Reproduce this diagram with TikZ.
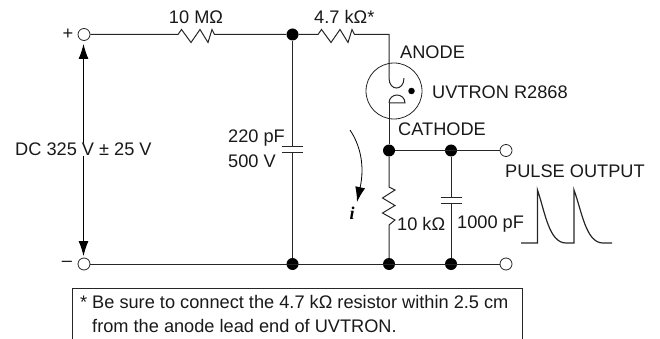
\documentclass[tikz,border=0pt]{standalone}
\usepackage{fontspec}
\setmainfont{Liberation Sans}
\newfontfamily\ifont{Liberation Serif}
\usetikzlibrary{arrows.meta}
\tikzset{
 wire/.style={line width=1pt,black!85},
 dot/.style={circle,fill=black,inner sep=0pt,minimum size=12pt},
 term/.style={circle,draw=black!85,fill=white,line width=0.8pt,inner sep=0pt,minimum size=12pt},
 lab/.style={inner sep=0pt,font=\fontsize{18.2}{22}\selectfont,text=black!90},
 bigarrow/.style={-{Latex[length=15pt,width=10pt]},line width=0.9pt,black},
}
\begin{document}
\begin{tikzpicture}[x=1pt,y=-1pt]
\useasboundingbox (0,0) rectangle (660,339);
% nodes
\node[term] (tp) at (84,34.5) {};
\node[term] (tm) at (84,264) {};
\node[dot] (d1) at (292.5,34.5) {};
\node[dot] (d2) at (292.5,264) {};
\node[dot] (d3) at (389,264) {};
\node[dot] (d4) at (451,264) {};
\node[dot] (d5) at (389,150.5) {};
\node[dot] (d6) at (451,150.5) {};
\node[term] (to1) at (506,150.5) {};
\node[term] (to2) at (506,264) {};
\coordinate (corner) at (389,34.5);
\coordinate (anodeend) at (389,78);
\coordinate (cathend) at (389,103);
% circle of tube
\node[circle,draw=black!85,line width=0.8pt,minimum size=56pt,inner sep=0pt] (tube) at (394,91) {};
\node[dot,minimum size=6.5pt] (getter) at (411.5,91) {};
% top wire with resistors
\draw[wire] (tp) -- (178,34.5) -- ++(3.5,-5) -- ++(9.5,13) -- ++(9,-13) -- ++(8,13) -- ++(4,-13) -- ++(2.5,5) -- (d1);
\draw[wire] (d1) -- (318,34.5) -- ++(3.5,-5) -- ++(9.5,13) -- ++(9,-13) -- ++(8,13) -- ++(4,-13) -- ++(2.5,5) -- (corner) -- (anodeend);
% anode cup
\draw[wire] (anodeend) .. controls (389,85) and (393,88) .. (396.5,88) .. controls (400,88) and (404,85) .. (404,78);
% cathode
\draw[wire] (cathend) -- (d5);
\draw[wire] (cathend) -- (405,103) .. controls (405,98) and (401,95) .. (397,95) .. controls (393,95) and (389,98) .. (389,103);
% main wires
\draw[wire] (tm) -- (to2);
\draw[wire] (d5) -- (to1);
% C1
\draw[wire] (d1) -- (292.5,147) (292.5,153) -- (d2);
\draw[wire] (282,147) -- (303,147) (282,153) -- (303,153);
% R 10k
\draw[wire] (d5) -- (389,187) -- (395,190) -- (382.5,198) -- (395,205.5) -- (382.5,213) -- (395,220) -- (389,225) -- (d3);
% C2
\draw[wire] (d6) -- (451,197) (451,203) -- (d4);
\draw[wire] (440.5,197) -- (461.5,197) (440.5,203) -- (461.5,203);
% voltage arrows
\draw[bigarrow] (83.5,150) -- (83.5,44);
\draw[bigarrow] (83.5,150) -- (83.5,256);
% current arrow
\draw[bigarrow,line width=0.8pt] (350,130) .. controls (360,145) and (365,165) .. (357,202);
% pulse
\draw[line width=1.2pt,black!85] (521,243) -- (537.5,243) -- (537.5,190) .. controls (545,212) and (549,243) .. (566,243) -- (574,243) -- (574,190) .. controls (582,212) and (586,243) .. (603,243) -- (612,243);
% note box
\draw[line width=0.8pt,black!85] (72,339) -- (72,288) -- (522,288) -- (522,339);
% texts
\node[lab] (lplus) at (68,34.5) {+};
\node[lab] (lminus) at (67,264) {–};
\node[lab] (l10M) at (196,17) {10 MΩ};
\node[lab,anchor=west] (l47) at (314,17) {4.7 kΩ*};
\node[lab,anchor=west] (lan) at (400,52) {ANODE};
\node[lab,anchor=west] (luv) at (432,92) {UVTRON R2868};
\node[lab,anchor=west] (lca) at (398,129) {CATHODE};
\node[lab,anchor=west,fill=white] (ldc) at (15,149.5) {DC 325 V ± 25 V};
\node[lab,anchor=west] (l220) at (228,138) {220 pF};
\node[lab,anchor=west] (l500) at (228,161) {500 V};
\node[lab,anchor=west] (l10k) at (397,224) {10 kΩ};
\node[lab,anchor=west] (l1000) at (457,224) {1000 pF};
\node[lab,anchor=west] (lpo) at (505,171) {PULSE OUTPUT};
\node[inner sep=0pt,font=\fontsize{18}{22}\ifont\bfseries\itshape] (li) at (352,213) {i};
\node[lab,anchor=west] (ln1) at (80,302) {*};
\node[lab,anchor=west] (ln2) at (92,302) {Be sure to connect the 4.7 kΩ resistor within 2.5 cm};
\node[lab,anchor=west] (ln3) at (92,326) {from the anode lead end of UVTRON.};
\end{tikzpicture}
\end{document}
